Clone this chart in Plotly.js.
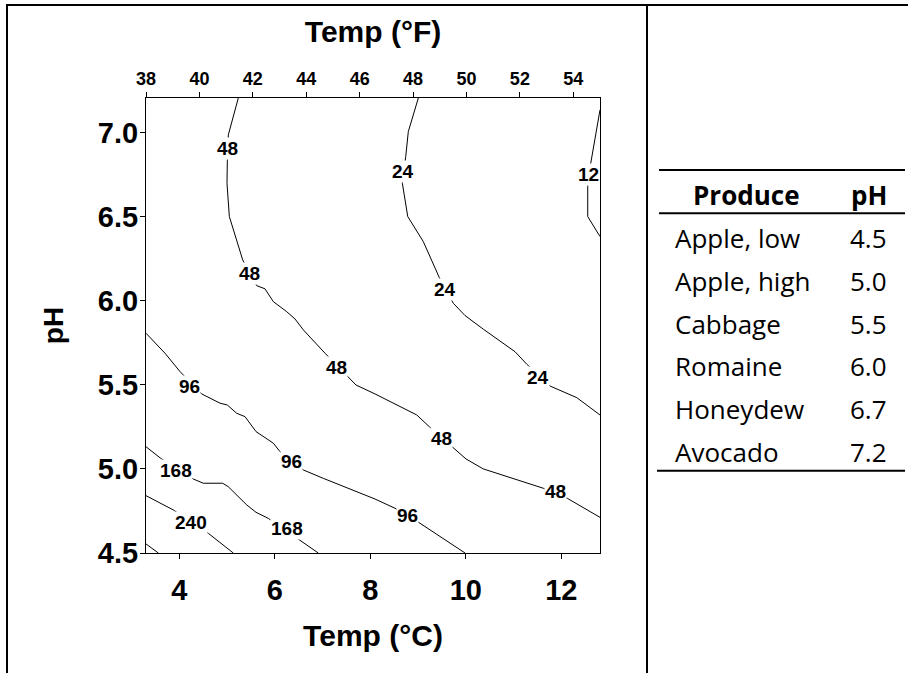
<!DOCTYPE html>
<html>
<head>
<meta charset="utf-8">
<script src="https://cdn.plot.ly/plotly-3.0.1.min.js"></script>
<style>
  html, body { margin: 0; padding: 0; background: #fff; }
  #chart { width: 908px; height: 673px; }
</style>
</head>
<body>
<div id="chart"></div>
<script>
// ---------------- DATA ----------------
// Axis ticks
const celsiusTicks = [4, 6, 8, 10, 12];
const fahrenheitTicks = [38, 40, 42, 44, 46, 48, 50, 52, 54];
const phTicks = [4.5, 5.0, 5.5, 6.0, 6.5, 7.0];

// Contour lines (temperature in °C, pH)
const c12_T  = [12.81, 12.616, 12.553, 12.553, 12.81];
const c12_pH = [7.135, 6.818, 6.679, 6.501, 6.382];

const c24_T  = [9.006, 8.796, 8.742, 8.671, 8.784, 9.110, 9.445, 9.739, 9.984, 10.367, 11.031, 11.276, 11.764, 12.323, 12.81];
const c24_pH = [7.206, 7.006, 6.858, 6.699, 6.501, 6.352, 6.138, 5.985, 5.912, 5.831, 5.697, 5.623, 5.493, 5.424, 5.321];

const c48_T  = [5.236, 5.027, 5.006, 4.999, 5.048, 5.328, 5.621, 5.795, 5.969, 6.250, 6.423, 6.597, 7.052, 7.519, 7.701, 8.099, 8.972, 9.236, 9.739, 10.005, 10.367, 11.623, 12.126, 12.81];
const c48_pH = [7.206, 6.987, 6.832, 6.699, 6.501, 6.243, 6.090, 6.071, 5.995, 5.935, 5.892, 5.827, 5.688, 5.555, 5.499, 5.446, 5.321, 5.251, 5.123, 5.059, 5.000, 4.885, 4.825, 4.712];

const c96_T  = [3.303, 3.701, 4.015, 4.469, 4.853, 5.006, 5.202, 5.376, 5.607, 5.969, 6.109, 6.597, 7.016, 7.366, 8.099, 8.518, 9.041, 9.984];
const c96_pH = [5.807, 5.688, 5.579, 5.446, 5.391, 5.380, 5.331, 5.311, 5.222, 5.153, 5.103, 4.994, 4.944, 4.905, 4.821, 4.766, 4.677, 4.5];

const c168_T  = [3.303, 3.491, 3.611, 4.294, 4.503, 4.909, 5.027, 5.412, 5.607, 5.864, 6.597, 6.911];
const c168_pH = [5.132, 5.093, 5.063, 4.940, 4.915, 4.915, 4.894, 4.786, 4.742, 4.706, 4.558, 4.5];

const c240_T  = [3.303, 3.875, 4.608, 5.131];
const c240_pH = [4.841, 4.756, 4.617, 4.5];

const cCorner_T  = [3.303, 3.561];
const cCorner_pH = [4.554, 4.5];

// Contour labels
const labelText = ['48', '48', '48', '48', '48', '24', '24', '24', '12', '96', '96', '96', '168', '168', '240'];
const labelT    = [5.014, 5.466, 7.282, 9.487, 11.883, 8.691, 9.565, 11.519, 12.566, 4.210, 6.354, 8.775, 3.931, 6.250, 4.239];
const labelPH   = [6.907, 6.164, 5.605, 5.181, 4.865, 6.768, 6.065, 5.545, 6.749, 5.493, 5.047, 4.726, 4.988, 4.643, 4.680];

// Table
const tableHeader = ['Produce', 'pH'];
const produceNames = ['Apple, low', 'Apple, high', 'Cabbage', 'Romaine', 'Honeydew', 'Avocado'];
const producePH = [4.5, 5.0, 5.5, 6.0, 6.7, 7.2];

// ---------------- LAYOUT HELPERS ----------------
const W = 908, H = 673;
const M = { l: 146, r: 308, t: 98, b: 120 };
const PW = W - M.l - M.r, PH = H - M.t - M.b;
const X = px => (px - M.l) / PW;      // pixel -> paper x
const Y = py => (H - M.b - py) / PH;  // pixel -> paper y

const axisFont = 'Liberation Sans, Arial, Helvetica, sans-serif';
const tableFont = 'Open Sans, Lato, Calibri, sans-serif';

const lineStyle = { color: '#000', width: 1 };
const contours = [
  [c12_T, c12_pH], [c24_T, c24_pH], [c48_T, c48_pH], [c96_T, c96_pH],
  [c168_T, c168_pH], [c240_T, c240_pH], [cCorner_T, cCorner_pH]
];
const traces = contours.map(([t, p]) => ({
  type: 'scatter', mode: 'lines', x: t, y: p,
  line: lineStyle, hoverinfo: 'skip', showlegend: false
}));
// empty trace bound to the top (°F) axis so that axis is drawn
traces.push({
  type: 'scatter', mode: 'markers', x: fahrenheitTicks, y: fahrenheitTicks.map(() => null),
  xaxis: 'x2', yaxis: 'y', hoverinfo: 'skip', showlegend: false
});

const annotations = [];
labelText.forEach((txt, i) => {
  annotations.push({
    x: labelT[i], y: labelPH[i], xref: 'x', yref: 'y', text: txt,
    showarrow: false, bgcolor: '#fff', borderpad: 0,
    font: { family: axisFont, size: 19, color: '#000', weight: 'bold' }
  });
});

// table text
const tableSize = 26;
annotations.push({
  x: X(746.7), y: Y(195), xref: 'paper', yref: 'paper', text: tableHeader[0],
  showarrow: false, xanchor: 'center', yanchor: 'middle',
  font: { family: tableFont, size: tableSize, color: '#000', weight: 'bold' }
});
annotations.push({
  x: X(868.8), y: Y(195), xref: 'paper', yref: 'paper', text: tableHeader[1],
  showarrow: false, xanchor: 'center', yanchor: 'middle',
  font: { family: tableFont, size: tableSize, color: '#000', weight: 'bold' }
});
produceNames.forEach((name, i) => {
  const py = 238.3 + i * 42.7;
  annotations.push({
    x: X(673), y: Y(py), xref: 'paper', yref: 'paper', text: name,
    showarrow: false, xanchor: 'left', yanchor: 'middle',
    font: { family: tableFont, size: tableSize, color: '#000' }
  });
  annotations.push({
    x: X(868.5), y: Y(py), xref: 'paper', yref: 'paper', text: producePH[i].toFixed(1),
    showarrow: false, xanchor: 'center', yanchor: 'middle',
    font: { family: tableFont, size: tableSize, color: '#000' }
  });
});

const shapes = [
  // outer frame
  { type: 'line', xref: 'paper', yref: 'paper', x0: X(7), x1: X(7), y0: Y(4), y1: Y(690), line: { color: '#000', width: 2 } },
  { type: 'line', xref: 'paper', yref: 'paper', x0: X(6), x1: X(920), y0: Y(5), y1: Y(5), line: { color: '#000', width: 2 } },
  { type: 'line', xref: 'paper', yref: 'paper', x0: X(647), x1: X(647), y0: Y(4), y1: Y(690), line: { color: '#000', width: 2 } },
  // table rules
  { type: 'line', xref: 'paper', yref: 'paper', x0: X(659), x1: X(905), y0: Y(170), y1: Y(170), line: { color: '#000', width: 2 } },
  { type: 'line', xref: 'paper', yref: 'paper', x0: X(659), x1: X(905), y0: Y(213.3), y1: Y(213.3), line: { color: '#000', width: 2 } },
  { type: 'line', xref: 'paper', yref: 'paper', x0: X(657), x1: X(905), y0: Y(470.7), y1: Y(470.7), line: { color: '#000', width: 2 } }
];

const layout = {
  width: W, height: H,
  margin: M,
  paper_bgcolor: '#fff', plot_bgcolor: '#fff',
  showlegend: false,
  xaxis: {
    range: [3.303, 12.81], tickvals: celsiusTicks,
    ticks: 'outside', ticklen: 5, tickwidth: 1, tickcolor: '#000',
    ticklabelstandoff: 6,
    showline: true, linecolor: '#000', linewidth: 1,
    showgrid: false, zeroline: false,
    tickfont: { family: axisFont, size: 29, color: '#000', weight: 'bold' },
    title: { text: 'Temp (°C)', standoff: 20, font: { family: axisFont, size: 30, color: '#000', weight: 'bold' } }
  },
  xaxis2: {
    overlaying: 'x', side: 'top', anchor: 'y',
    range: [38, 55], tickvals: fahrenheitTicks,
    ticks: 'outside', ticklen: 5, tickwidth: 1, tickcolor: '#000',
    showline: true, linecolor: '#000', linewidth: 1,
    showgrid: false, zeroline: false,
    tickfont: { family: axisFont, size: 18, color: '#000', weight: 'bold' },
    title: { text: 'Temp (°F)', standoff: 17, font: { family: axisFont, size: 30, color: '#000', weight: 'bold' } }
  },
  yaxis: {
    range: [4.5, 7.206], tickvals: phTicks, tickformat: '.1f',
    ticks: 'outside', ticklen: 5, tickwidth: 1, tickcolor: '#000',
    ticklabelstandoff: -4,
    showline: true, mirror: true, linecolor: '#000', linewidth: 1,
    showgrid: false, zeroline: false,
    tickfont: { family: axisFont, size: 29, color: '#000', weight: 'bold' },
    title: { text: 'pH', standoff: 26, font: { family: axisFont, size: 28, color: '#000', weight: 'bold' } }
  },
  annotations: annotations,
  shapes: shapes
};

Plotly.newPlot('chart', traces, layout, { staticPlot: true, displayModeBar: false });
</script>
</body>
</html>
